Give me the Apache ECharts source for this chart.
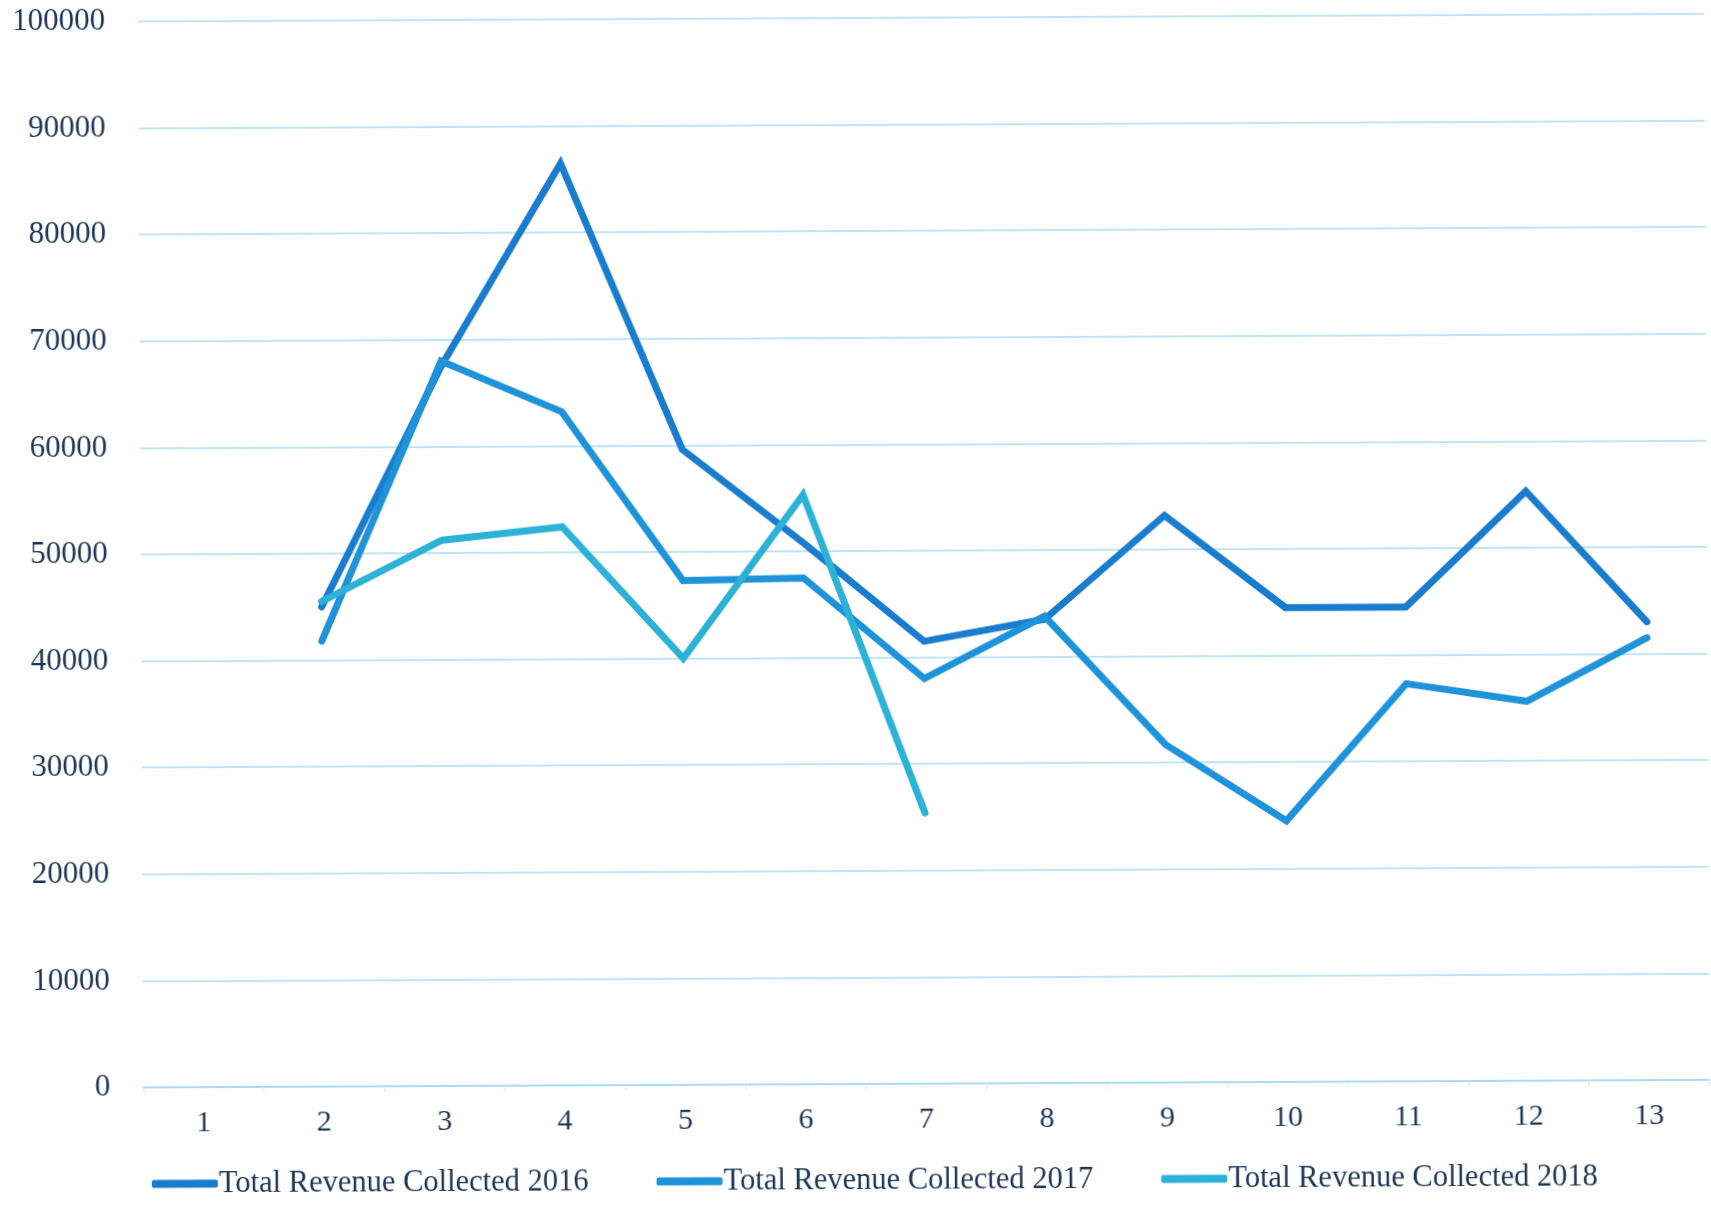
<!DOCTYPE html>
<html>
<head>
<meta charset="utf-8">
<script src="https://cdn.jsdelivr.net/npm/echarts@6/dist/echarts.min.js"></script>
<style>
html,body{margin:0;padding:0;background:#fff;}
#chart{width:1711px;height:1209px;transform:rotate(-0.28deg);}
</style>
</head>
<body>
<div id="chart"></div>
<script>
const categories = ['1','2','3','4','5','6','7','8','9','10','11','12','13'];
const seriesNames = ['Total Revenue Collected 2016','Total Revenue Collected 2017','Total Revenue Collected 2018'];
const rev2016 = [null, 45000, 67500, 86500, 59600, 50800, 41500, 43500, 53200, 44500, 44500, 55300, 43000];
const rev2017 = [null, 41800, 68000, 63200, 47300, 47500, 38000, 43800, 31700, 24500, 37300, 35600, 41500];
const rev2018 = [null, 45500, 51200, 52400, 40000, 55300, 25400];
const yTicks = [0, 10000, 20000, 30000, 40000, 50000, 60000, 70000, 80000, 90000, 100000];

const colors = ['#1a7ccf', '#1f93d9', '#2bb2d6'];
const textColor = '#1d3657';
const fontFamily = '"Liberation Serif", serif';

const chart = echarts.init(document.getElementById('chart'));
const mk = (name, data, i) => ({
  name, type: 'line', data,
  showSymbol: false, symbol: 'none',
  connectNulls: false,
  lineStyle: { width: 7, color: colors[i], cap: 'round', join: 'miter' },
  itemStyle: { color: colors[i] },
  emphasis: { disabled: true },
  animation: false
});
chart.setOption({
  animation: false,
  grid: { left: 141, right: 4, top: 18, bottom: 125 },
  legend: {
    data: seriesNames,
    bottom: 8,
    left: 144,
    icon: 'roundRect',
    itemWidth: 66,
    itemHeight: 8,
    itemGap: 68,
    textStyle: { fontFamily, fontSize: 30.5, color: textColor, padding: [0,0,0,-4] }
  },
  xAxis: {
    type: 'category',
    data: categories,
    boundaryGap: true,
    axisLine: { lineStyle: { color: '#a9dcef', width: 2 } },
    axisTick: { show: true, length: 6, lineStyle: { color: '#cfe9f3', width: 1 } },
    axisLabel: { fontFamily, fontSize: 30, color: textColor, margin: 21 }
  },
  yAxis: {
    type: 'value',
    min: yTicks[0],
    max: yTicks[yTicks.length - 1],
    interval: yTicks[1] - yTicks[0],
    axisLine: { show: false },
    axisTick: { show: false },
    splitLine: { lineStyle: { color: '#a9dcef', width: 1.5 } },
    axisLabel: { fontFamily, fontSize: 31, color: textColor, margin: 33, formatter: v => String(v) }
  },
  series: [mk(seriesNames[0], rev2016, 0), mk(seriesNames[1], rev2017, 1), mk(seriesNames[2], rev2018, 2)]
});
</script>
</body>
</html>
